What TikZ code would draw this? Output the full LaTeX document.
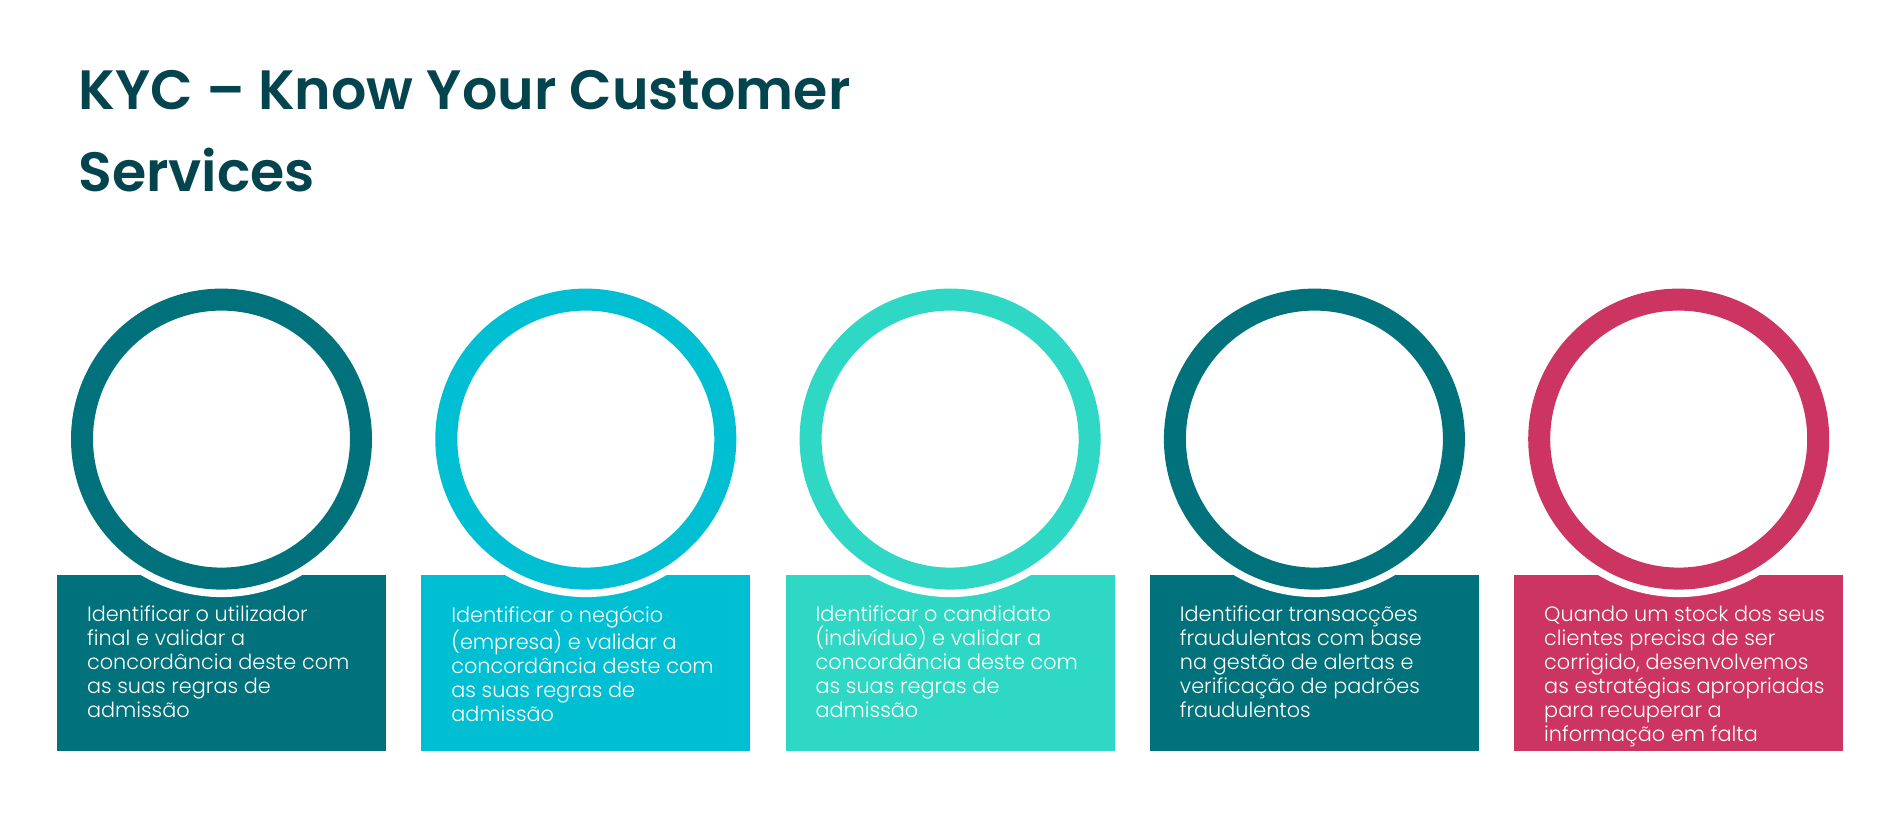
\documentclass[tikz,border=0pt]{standalone}
\usepackage{fontspec}
\setmainfont{Poppins}[UprightFont=* Light, BoldFont=* SemiBold]
\usetikzlibrary{positioning,calc}

\definecolor{kycteal}{HTML}{01727C}
\definecolor{kyccyan}{HTML}{00BFD3}
\definecolor{kycaqua}{HTML}{2FD8C4}
\definecolor{kycpink}{HTML}{CC3462}
\definecolor{kycdark}{HTML}{03444F}

\tikzset{
    panel/.style={rectangle,fill=#1,minimum width=164.5pt,minimum height=88pt,inner sep=0pt},
    halo/.style={circle,fill=white,minimum size=158pt,inner sep=0pt},
    ring/.style={circle,draw=#1,line width=11pt,minimum size=139.5pt,inner sep=0pt},
    blurb/.style={align=left,text=white,inner sep=0pt,font=\fontsize{10.4}{12}\selectfont},
}

\begin{document}
\begin{tikzpicture}[x=0.5pt,y=-0.5pt]
    \fill[white] (0,0) rectangle (1899,833);
    \useasboundingbox (0,0) rectangle (1899,833);

    \node[anchor=north west,align=left,inner sep=0pt,text=kycdark,font=\bfseries\fontsize{27.7}{41}\selectfont] (title) at (78,70) {KYC – Know Your Customer\\Services};

    \node[panel=kycteal] (b1) at (221.5,663) {};
    \node[panel=kyccyan,right=17.25pt of b1] (b2) {};
    \node[panel=kycaqua,right=17.25pt of b2] (b3) {};
    \node[panel=kycteal,right=17.25pt of b3] (b4) {};
    \node[panel=kycpink,right=17.25pt of b4] (b5) {};

    \coordinate[above=67.75pt of b1.north] (o1);
    \coordinate[above=67.75pt of b2.north] (o2);
    \coordinate[above=67.75pt of b3.north] (o3);
    \coordinate[above=67.75pt of b4.north] (o4);
    \coordinate[above=67.75pt of b5.north] (o5);

    \node[halo] (h1) at (o1) {};
    \node[halo] (h2) at (o2) {};
    \node[halo] (h3) at (o3) {};
    \node[halo] (h4) at (o4) {};
    \node[halo] (h5) at (o5) {};

    \node[ring=kycteal] (c1) at (o1) {};
    \node[ring=kyccyan] (c2) at (o2) {};
    \node[ring=kycaqua] (c3) at (o3) {};
    \node[ring=kycteal] (c4) at (o4) {};
    \node[ring=kycpink] (c5) at (o5) {};

    \node[blurb,below right=15.5pt and 15pt of b1.north west] (t1) {Identificar o utilizador\\final e validar a\\concordância deste com\\as suas regras de\\admissão};
    \node[blurb,below right=15.5pt and 15pt of b2.north west] (t2) {Identificar o negócio\\(empresa) e validar a\\concordância deste com\\as suas regras de\\admissão};
    \node[blurb,below right=15.5pt and 15pt of b3.north west] (t3) {Identificar o candidato\\(indivíduo) e validar a\\concordância deste com\\as suas regras de\\admissão};
    \node[blurb,below right=15.5pt and 15pt of b4.north west] (t4) {Identificar transacções\\fraudulentas com base\\na gestão de alertas e\\verificação de padrões\\fraudulentos};
    \node[blurb,below right=15.5pt and 15pt of b5.north west] (t5) {Quando um stock dos seus\\clientes precisa de ser\\corrigido, desenvolvemos\\as estratégias apropriadas\\para recuperar a\\informação em falta};
\end{tikzpicture}
\end{document}
